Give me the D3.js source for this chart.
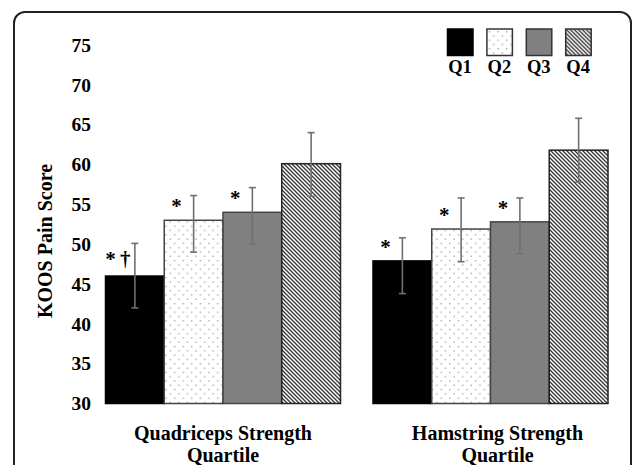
<!DOCTYPE html>
<html>
<head>
<meta charset="utf-8">
<script src="https://cdn.jsdelivr.net/npm/d3@7"></script>
<style>
  body { margin: 0; background: #fff; }
  text { font-family: "Liberation Serif", "Times New Roman", serif; font-weight: bold; fill: #000; }
</style>
</head>
<body>
<svg id="chart" width="635" height="465"></svg>
<script>
// Data
const groups = ["Quadriceps Strength|Quartile", "Hamstring Strength|Quartile"];
const quartiles = ["Q1", "Q2", "Q3", "Q4"];
const quadMeans = [46.0, 53.0, 54.0, 60.1];
const quadLow = [42.0, 49.0, 50.0, 56.0];
const quadHigh = [50.1, 56.1, 57.1, 64.0];
const quadMarks = ["*\u2009\u2020", "*", "*", ""];
const hamMeans = [47.9, 51.9, 52.8, 61.8];
const hamLow = [43.8, 47.8, 48.8, 57.8];
const hamHigh = [50.8, 55.8, 55.8, 65.8];
const hamMarks = ["*", "*", "*", ""];
const yTicks = [30, 35, 40, 45, 50, 55, 60, 65, 70, 75];

const rows = [];
[[quadMeans, quadLow, quadHigh, quadMarks], [hamMeans, hamLow, hamHigh, hamMarks]].forEach((g, gi) => {
    quartiles.forEach((q, qi) => {
        rows.push({ group: groups[gi], q: q, mean: g[0][qi], lo: g[1][qi], hi: g[2][qi], mark: g[3][qi] });
    });
});

const svg = d3.select("#chart");

// rounded frame (bottom runs off the picture)
svg.append("rect")
    .attr("x", 14).attr("y", 12)
    .attr("width", 617).attr("height", 480)
    .attr("rx", 11)
    .attr("fill", "none").attr("stroke", "#222").attr("stroke-width", 2);

// fill patterns
const defs = svg.append("defs");
const dots = defs.append("pattern").attr("id", "dots")
    .attr("patternUnits", "userSpaceOnUse").attr("width", 8.6).attr("height", 8.6);
dots.append("rect").attr("width", 8.6).attr("height", 8.6).attr("fill", "#fff");
dots.append("rect").attr("x", 2).attr("y", 2).attr("width", 1.2).attr("height", 1.2).attr("fill", "#8a8a8a");
dots.append("rect").attr("x", 6.3).attr("y", 6.3).attr("width", 1.2).attr("height", 1.2).attr("fill", "#8a8a8a");

const hatch = defs.append("pattern").attr("id", "hatch")
    .attr("patternUnits", "userSpaceOnUse").attr("width", 4).attr("height", 4);
hatch.append("rect").attr("width", 4).attr("height", 4).attr("fill", "#fff");
hatch.append("path").attr("d", "M-1,-1 L5,5 M-1,3 L1,5 M3,-1 L5,1")
    .attr("stroke", "#333").attr("stroke-width", 1.3);

const fills = { Q1: "#000", Q2: "url(#dots)", Q3: "#808080", Q4: "url(#hatch)" };
const strokes = { Q1: "#000", Q2: "#444", Q3: "#444", Q4: "#222" };

// scales
const y = d3.scaleLinear().domain([30, 75]).range([403.5, 45]);
const x0 = d3.scaleBand().domain(groups).range([105.5, 608]).paddingInner(0.1215).paddingOuter(0);
const x1 = d3.scaleBand().domain(quartiles).range([0, x0.bandwidth()]).padding(0);

// y axis, labels only
const yAxis = svg.append("g")
    .attr("transform", "translate(91,0)")
    .call(d3.axisLeft(y).tickValues(yTicks).tickSize(0).tickPadding(0));
yAxis.select(".domain").remove();
yAxis.selectAll("text")
    .attr("font-family", "Liberation Serif")
    .attr("font-weight", "bold")
    .attr("font-size", 19.5)
    .attr("fill", "#000");

svg.append("text")
    .attr("transform", "translate(52,241) rotate(-90)")
    .attr("text-anchor", "middle")
    .attr("font-size", 20)
    .text("KOOS Pain Score");

// bars
svg.append("g").selectAll("rect")
    .data(rows)
    .join("rect")
    .attr("x", d => x0(d.group) + x1(d.q))
    .attr("y", d => y(d.mean))
    .attr("width", x1.bandwidth())
    .attr("height", d => y(30) - y(d.mean))
    .attr("fill", d => fills[d.q])
    .attr("stroke", d => strokes[d.q])
    .attr("stroke-width", 1.5);

// error bars
const err = svg.append("g").attr("stroke", "#707070").attr("stroke-width", 1.6);
rows.forEach(d => {
    const cx = x0(d.group) + x1(d.q) + x1.bandwidth() / 2;
    err.append("line").attr("x1", cx).attr("x2", cx).attr("y1", y(d.hi)).attr("y2", y(d.lo));
    err.append("line").attr("x1", cx - 3.5).attr("x2", cx + 3.5).attr("y1", y(d.hi)).attr("y2", y(d.hi));
    err.append("line").attr("x1", cx - 3.5).attr("x2", cx + 3.5).attr("y1", y(d.lo)).attr("y2", y(d.lo));
});

// significance marks (the dagger has a descender, so lift that one a bit)
svg.append("g").selectAll("text")
    .data(rows.filter(d => d.mark))
    .join("text")
    .attr("x", d => x0(d.group) + x1(d.q) + x1.bandwidth() / 2 - 17)
    .attr("y", d => y(d.mean) - (d.mark.length > 1 ? 10 : 7))
    .attr("text-anchor", "middle")
    .attr("font-size", 21)
    .text(d => d.mark);

// group labels
groups.forEach(g => {
    const cx = x0(g) + x0.bandwidth() / 2 + (g.startsWith("Ham") ? 7 : 0);
    const t = svg.append("text")
        .attr("x", cx)
        .attr("y", 440)
        .attr("text-anchor", "middle")
        .attr("font-size", 20);
    g.split("|").forEach((line, i) => {
        t.append("tspan")
            .attr("x", cx)
            .attr("dy", i ? 22 : 0)
            .text(line);
    });
});

// legend
const legend = svg.append("g").selectAll("g")
    .data(quartiles)
    .join("g")
    .attr("transform", (d, i) => `translate(${447.5 + i * 39.4},29)`);
legend.append("rect")
    .attr("width", 25.5).attr("height", 26.5)
    .attr("fill", d => fills[d])
    .attr("stroke", d => d === "Q1" ? "#000" : "#333")
    .attr("stroke-width", 1.5);
legend.append("text")
    .attr("x", 12.5).attr("y", 44)
    .attr("text-anchor", "middle")
    .attr("font-size", 18.5)
    .text(d => d);
</script>
</body>
</html>
